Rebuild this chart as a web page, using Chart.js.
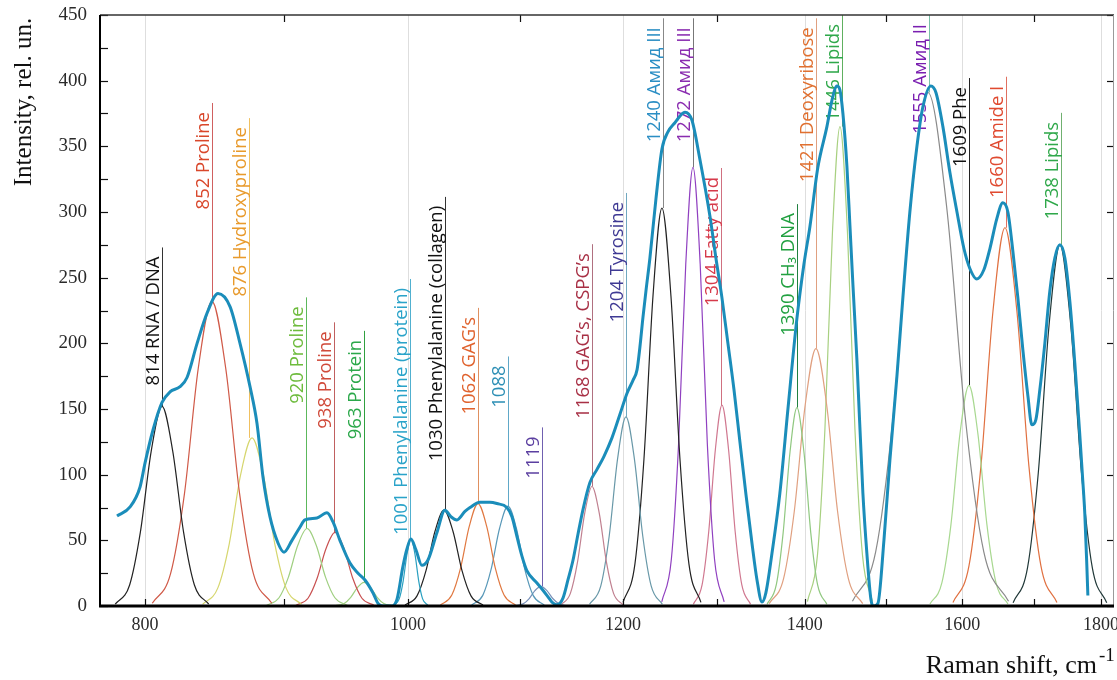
<!DOCTYPE html>
<html>
<head>
<meta charset="utf-8">
<script src="https://cdn.jsdelivr.net/npm/chart.js@4.4.1/dist/chart.umd.min.js"></script>
<style>
  html, body { margin: 0; padding: 0; background: #fff; }
  #wrap { width: 1117px; height: 680px; }
</style>
</head>
<body>
<div id="wrap"><canvas id="spectrum" width="1117" height="680"></canvas></div>
<script>
// measured spectrum (thick teal line)
const envelopeShift = [781.2, 789.9, 796.6, 800.0, 805.4, 811.6, 817.1, 824.1, 829.0, 836.1, 843.2, 851.1, 859.8, 867.1, 874.5, 879.7, 884.2, 889.4, 895.5, 900.1, 906.2, 912.3, 916.2, 925.6, 933.5, 938.3, 943.8, 951.9, 958.4, 964.1, 970.7, 974.8, 978.9, 986.4, 990.6, 995.6, 998.9, 1002.4, 1006.6, 1011.8, 1017.0, 1024.8, 1031.7, 1037.0, 1042.3, 1049.4, 1053.9, 1062.8, 1071.9, 1078.2, 1087.4, 1092.1, 1096.7, 1101.4, 1106.0, 1115.5, 1121.2, 1126.0, 1129.8, 1134.6, 1140.4, 1145.3, 1150.2, 1155.1, 1160.1, 1166.8, 1173.8, 1180.8, 1188.8, 1196.9, 1204.1, 1210.3, 1214.4, 1217.3, 1220.5, 1223.6, 1227.7, 1234.0, 1240.3, 1246.6, 1254.0, 1264.7, 1272.2, 1280.9, 1291.8, 1298.4, 1305.0, 1311.7, 1318.4, 1325.1, 1331.9, 1338.7, 1344.4, 1350.1, 1354.6, 1361.6, 1370.8, 1380.2, 1390.6, 1399.0, 1406.2, 1415.7, 1426.6, 1432.7, 1438.8, 1442.4, 1446.1, 1451.0, 1454.7, 1458.4, 1463.4, 1470.8, 1475.8, 1480.9, 1484.6, 1489.7, 1497.3, 1504.9, 1513.9, 1521.6, 1530.6, 1539.8, 1547.6, 1558.1, 1564.8, 1574.1, 1583.5, 1593.0, 1602.5, 1610.5, 1620.0, 1629.8, 1638.1, 1647.8, 1656.2, 1663.3, 1670.4, 1677.4, 1684.6, 1691.8, 1697.5, 1703.3, 1709.1, 1716.3, 1723.6, 1730.9, 1738.3, 1745.7, 1753.1, 1760.5, 1768.0, 1772.5, 1775.5, 1778.6, 1780.1];
const envelopeIntensity = [68.5, 75.4, 90.6, 109, 134, 155, 163, 167, 174, 200, 223, 238, 228, 200, 167, 139, 98, 68, 48, 41, 50, 60, 65.5, 67, 71, 64, 50, 32.7, 25, 19.8, 9.9, 2, 0, 0, 5, 30, 43, 51, 43, 31, 35, 56, 73, 68, 65.5, 72, 75, 79, 79, 78, 75, 68, 53, 38, 27, 17.5, 12, 7, 3, 1, 6, 20, 35, 55, 74, 94, 104, 114, 128, 146, 162, 172, 180, 197, 220, 240, 265, 310, 348, 361, 368, 376, 370, 340, 297, 265, 235, 200, 165, 125, 85, 48, 20, 3, 10, 40, 86, 150, 218, 260, 289, 334, 365, 385, 396, 393, 375, 335, 290, 245, 187, 86, 40, 5, 0, 2, 50, 111, 175, 235, 300, 350, 380, 396, 391, 365, 330, 300, 272, 257, 249, 256, 272, 295, 307, 300, 270, 235, 195, 160, 138, 142, 165, 200, 240, 265, 275, 265, 232, 185, 130, 95, 70, 30, 8];

// fitted bands, one row per band
const bandShift = [
  [780.0, 789.6, 796.8, 804.2, 811.6, 819.0, 826.6, 834.2, 844.4],
  [804.9, 817.5, 827.2, 836.9, 846.7, 856.7, 866.8, 877.0, 890.8],
  [840.0, 850.9, 859.2, 867.5, 876.0, 884.5, 893.1, 901.7, 913.5],
  [887.0, 896.3, 903.4, 910.6, 917.8, 925.1, 932.4, 939.8, 949.7],
  [909.3, 918.6, 925.6, 932.7, 939.9, 947.1, 954.3, 961.6, 971.5],
  [940.2, 947.2, 952.5, 957.9, 963.3, 968.7, 974.1, 979.6, 986.9],
  [988.2, 992.5, 995.8, 999.1, 1002.4, 1005.8, 1009.1, 1012.4, 1016.9],
  [997.4, 1007.6, 1015.3, 1023.1, 1030.9, 1038.8, 1046.8, 1054.8, 1065.6],
  [1027.7, 1037.8, 1045.5, 1053.3, 1061.1, 1068.9, 1076.8, 1084.8, 1095.5],
  [1055.3, 1065.4, 1073.0, 1080.7, 1088.4, 1096.2, 1104.0, 1111.9, 1122.5],
  [1094.9, 1102.4, 1108.0, 1113.6, 1119.3, 1125.0, 1130.8, 1136.6, 1144.3],
  [1138.3, 1147.6, 1154.6, 1161.7, 1168.8, 1176.0, 1183.2, 1190.4, 1200.2],
  [1166.4, 1177.6, 1186.0, 1194.5, 1203.0, 1211.6, 1220.3, 1229.0, 1240.7],
  [1200.0, 1212.2, 1221.5, 1230.9, 1240.3, 1249.8, 1259.4, 1269.0, 1282.0],
  [1240.1, 1250.2, 1257.9, 1265.6, 1273.4, 1281.2, 1289.0, 1296.9, 1307.5],
  [1273.8, 1283.3, 1290.5, 1297.8, 1305.1, 1312.4, 1319.8, 1327.2, 1337.1],
  [1356.0, 1366.6, 1374.6, 1382.7, 1390.8, 1399.0, 1407.2, 1415.4, 1426.5],
  [1358.4, 1375.1, 1387.7, 1400.5, 1413.4, 1426.4, 1439.5, 1452.8, 1470.6],
  [1403.2, 1415.2, 1424.2, 1433.3, 1442.5, 1451.7, 1460.9, 1470.3, 1482.8],
  [1457.8, 1486.9, 1509.0, 1531.5, 1554.3, 1579.0, 1604.1, 1629.6, 1664.2],
  [1556.9, 1572.8, 1584.9, 1597.0, 1609.3, 1621.6, 1634.0, 1646.6, 1663.4],
  [1587.6, 1609.3, 1625.7, 1642.4, 1659.2, 1676.1, 1693.3, 1710.6, 1734.0],
  [1670.7, 1691.3, 1706.8, 1722.5, 1738.4, 1754.4, 1770.5, 1786.8, 1808.8]
];
const bandIntensity = [
  [1.4, 16, 56, 118, 152, 118, 56, 16, 1.4],
  [2.1, 24.6, 85.6, 180.7, 232, 180.7, 85.6, 24.6, 2.1],
  [1.2, 13.6, 47.2, 99.7, 128, 99.7, 47.2, 13.6, 1.2],
  [0.5, 6.3, 21.8, 46, 59, 46, 21.8, 6.3, 0.5],
  [0.5, 5.9, 20.7, 43.6, 56, 43.6, 20.7, 5.9, 0.5],
  [0.2, 1.9, 6.6, 14, 18, 14, 6.6, 1.9, 0.2],
  [0.5, 5.4, 18.8, 39.7, 51, 39.7, 18.8, 5.4, 0.5],
  [0.7, 7.7, 26.9, 56.9, 73, 56.9, 26.9, 7.7, 0.7],
  [0.7, 8.3, 28.8, 60.8, 78, 60.8, 28.8, 8.3, 0.7],
  [0.7, 8.1, 28, 59.2, 76, 59.2, 28, 8.1, 0.7],
  [0.1, 1.6, 5.5, 11.7, 15, 11.7, 5.5, 1.6, 0.1],
  [0.8, 9.6, 33.6, 70.9, 91, 70.9, 33.6, 9.6, 0.8],
  [1.3, 15.3, 53.1, 112.2, 144, 112.2, 53.1, 15.3, 1.3],
  [2.8, 32.1, 111.8, 236, 303, 236, 111.8, 32.1, 2.8],
  [3.1, 35.4, 123.2, 260.2, 334, 260.2, 123.2, 35.4, 3.1],
  [1.4, 16.2, 56.5, 119.2, 153, 119.2, 56.5, 16.2, 1.4],
  [1.4, 16, 55.7, 117.6, 151, 117.6, 55.7, 16, 1.4],
  [1.8, 20.8, 72.3, 152.7, 196, 152.7, 72.3, 20.8, 1.8],
  [3.4, 38.7, 134.7, 284.3, 365, 284.3, 134.7, 38.7, 3.4],
  [3.6, 41.4, 144.3, 304.6, 391, 304.6, 144.3, 41.4, 3.6],
  [1.5, 17.8, 62, 130.9, 168, 130.9, 62, 17.8, 1.5],
  [2.6, 30.5, 106.3, 224.4, 288, 224.4, 106.3, 30.5, 2.6],
  [2.5, 29.2, 101.5, 214.2, 275, 214.2, 101.5, 29.2, 2.5]
];
const bandColor = ["#222222", "#d05a48", "#d6d66e", "#9fcf80", "#c85050", "#9fcf80", "#2aa0c0", "#222222",
  "#e07840", "#5898b8", "#7890b8", "#c08090", "#6898a8", "#222222", "#9040c0", "#d07890",
  "#90c880", "#e0a080", "#a8d080", "#8a8a8a", "#a8d890", "#e07040", "#203838"];

// band labels
const labelText = ["814 RNA / DNA", "852 Proline", "876 Hydroxyproline", "920 Proline", "938 Proline",
  "963 Protein", "1001 Phenylalanine (protein)", "1030 Phenylalanine (collagen)", "1062 GAG’s", "1088",
  "1119", "1168 GAG’s, CSPG’s", "1204 Tyrosine", "1240 Амид III", "1272 Амид III", "1304 Fatty acid",
  "1390 CH₃ DNA", "1421 Deoxyribose", "1446 Lipids", "1555 Амид II", "1609 Phe", "1660 Amide I", "1738 Lipids"];
const labelShift = [811.6, 846.7, 873.7, 917, 939, 963.3, 1002, 1031.7, 1061, 1088.4, 1120, 1168.8, 1203,
  1241.3, 1273.3, 1303.9, 1390.6, 1413.3, 1444.8, 1555.4, 1609.1, 1660.5, 1739.8];
const labelTop = [273, 383, 371.5, 235, 216, 209.5, 249, 311.5, 227, 190, 136, 275.5, 314.5, 447.5, 447.5,
  333.5, 306, 447.5, 450, 450, 402, 403, 375.5];
const labelBase = [152, 232, 128, 59, 56, 18, 51, 73, 78, 76, 15, 91, 144, 303, 334, 153, 151, 196, 365,
  391, 168, 288, 275];
const labelColor = ["#111111", "#d9472b", "#e89a2c", "#6dbb3c", "#d04a3a", "#2ba84a", "#2aa3c9", "#111111",
  "#e0622d", "#2d8fb5", "#5b3fa0", "#a83045", "#3f3a94", "#2b8ec4", "#8a2cb0", "#d63a4a", "#21a040",
  "#e07030", "#2fa84a", "#7a1fb0", "#111111", "#e04a30", "#2fa84a"];
const labelLineColor = ["#333333", "#d06060", "#f0c060", "#5cb85c", "#c06060", "#30a040", "#50b0d0",
  "#333333", "#e09060", "#60a8c8", "#7060b0", "#b07080", "#70a8c0", "#888888", "#777777", "#d07080",
  "#208040", "#e0a080", "#60b060", "#78c0a8", "#222222", "#e07060", "#70b070"];

const xTicks = [800, 900, 1000, 1100, 1200, 1300, 1400, 1500, 1600, 1700, 1800];
const yTicks = [0, 50, 100, 150, 200, 250, 300, 350, 400, 450];

const serif = '"Liberation Serif", "Times New Roman", serif';

const frame = {
  id: "frame",
  beforeDatasetsDraw(chart) {
    const { ctx, chartArea: a, scales: { x, y } } = chart;
    ctx.save();
    // light grid at labelled shifts
    ctx.strokeStyle = "#dedede";
    ctx.lineWidth = 1;
    xTicks.filter(v => v % 200 === 0).forEach(v => {
      const px = Math.round(x.getPixelForValue(v)) + 0.5;
      ctx.beginPath(); ctx.moveTo(px, a.top); ctx.lineTo(px, a.bottom); ctx.stroke();
    });
    // band labels
    ctx.font = '18.5px "Open Sans", "Noto Sans", sans-serif';
    labelText.forEach((t, i) => {
      const px = Math.round(x.getPixelForValue(labelShift[i])) + 0.5;
      const top = y.getPixelForValue(labelTop[i]);
      const bot = y.getPixelForValue(labelBase[i]);
      ctx.strokeStyle = labelLineColor[i];
      ctx.beginPath(); ctx.moveTo(px, top); ctx.lineTo(px, bot); ctx.stroke();
      ctx.save();
      ctx.translate(px - 4, top + 9);
      ctx.rotate(-Math.PI / 2);
      ctx.fillStyle = labelColor[i];
      ctx.textAlign = "right";
      ctx.textBaseline = "alphabetic";
      ctx.fillText(t, 0, 0);
      ctx.restore();
    });
    ctx.restore();
  },
  afterDatasetsDraw(chart) {
    const { ctx, chartArea: a, scales: { x, y } } = chart;
    ctx.save();
    ctx.strokeStyle = "#111";
    ctx.lineWidth = 1.2;
    // inward ticks
    yTicks.forEach(v => {
      const py = Math.round(y.getPixelForValue(v)) + 0.5;
      ctx.beginPath(); ctx.moveTo(a.right, py); ctx.lineTo(a.right - 7, py); ctx.stroke();
    });
    for (let v = 25; v < 450; v += 50) {
      const py = Math.round(y.getPixelForValue(v)) + 0.5;
      ctx.beginPath(); ctx.moveTo(a.left, py); ctx.lineTo(a.left + 8, py); ctx.stroke();
    }
    yTicks.forEach(v => {
      const py = Math.round(y.getPixelForValue(v)) + 0.5;
      ctx.beginPath(); ctx.moveTo(a.left, py); ctx.lineTo(a.left + 8, py); ctx.stroke();
    });
    xTicks.forEach(v => {
      const px = Math.round(x.getPixelForValue(v)) + 0.5;
      ctx.beginPath(); ctx.moveTo(px, a.bottom); ctx.lineTo(px, a.bottom - 7); ctx.stroke();
      if (v % 200 !== 0) {
        ctx.beginPath(); ctx.moveTo(px, a.top); ctx.lineTo(px, a.top + 7); ctx.stroke();
      }
    });
    // box
    ctx.strokeStyle = "#333";
    ctx.lineWidth = 1.5;
    ctx.beginPath(); ctx.moveTo(a.left, a.top); ctx.lineTo(a.right, a.top); ctx.stroke();
    ctx.strokeStyle = "#999";
    ctx.lineWidth = 1;
    ctx.beginPath(); ctx.moveTo(a.right - 0.5, a.top); ctx.lineTo(a.right - 0.5, a.bottom); ctx.stroke();
    ctx.strokeStyle = "#000";
    ctx.lineWidth = 2;
    ctx.beginPath(); ctx.moveTo(a.left, a.top); ctx.lineTo(a.left, a.bottom); ctx.stroke();
    ctx.lineWidth = 3;
    ctx.beginPath(); ctx.moveTo(a.left - 1, a.bottom); ctx.lineTo(a.right, a.bottom); ctx.stroke();
    ctx.restore();
  },
  afterDraw(chart) {
    const { ctx } = chart;
    ctx.save();
    ctx.fillStyle = "#111";
    // y title
    ctx.font = "25px " + serif;
    ctx.translate(31, 102);
    ctx.rotate(-Math.PI / 2);
    ctx.textAlign = "center";
    ctx.textBaseline = "alphabetic";
    ctx.fillText("Intensity, rel. un.", 0, 0);
    ctx.restore();
    // x title with superscript
    ctx.save();
    ctx.fillStyle = "#111";
    ctx.font = "26px " + serif;
    ctx.textAlign = "right";
    ctx.textBaseline = "alphabetic";
    ctx.fillText("Raman shift, cm", 1097, 673);
    ctx.font = "19px " + serif;
    ctx.textAlign = "left";
    ctx.fillText("-1", 1099, 661);
    ctx.restore();
  }
};

const datasets = [{
  label: "spectrum",
  data: envelopeShift.map((v, i) => ({ x: v, y: envelopeIntensity[i] })),
  borderColor: "#1b8dba",
  borderWidth: 3,
  pointRadius: 0,
  cubicInterpolationMode: "monotone",
  fill: false,
  order: 0
}];
bandShift.forEach((xs, k) => {
  datasets.push({
    label: labelText[k],
    data: xs.map((v, i) => ({ x: v, y: bandIntensity[k][i] })),
    borderColor: bandColor[k],
    borderWidth: 1.2,
    pointRadius: 0,
    cubicInterpolationMode: "monotone",
    fill: false,
    order: 1
  });
});

new Chart(document.getElementById("spectrum"), {
  type: "line",
  data: { datasets },
  options: {
    responsive: false,
    animation: false,
    devicePixelRatio: 1,
    layout: { padding: { left: 0, right: 3, top: 15, bottom: 0 } },
    plugins: { legend: { display: false }, tooltip: { enabled: false } },
    scales: {
      x: {
        type: "logarithmic",
        min: 770,
        max: 1820,
        afterBuildTicks: s => { s.ticks = xTicks.map(v => ({ value: v })); },
        afterFit: s => { s.height = 74; s.paddingLeft = 0; s.paddingRight = 0; },
        ticks: {
          autoSkip: false,
          maxRotation: 0,
          padding: 8,
          color: "#2a2a2a",
          font: { family: serif, size: 18 },
          callback: v => (v % 200 === 0 ? String(v) : "")
        },
        grid: { display: false, drawTicks: false },
        border: { display: false }
      },
      y: {
        min: 0,
        max: 450,
        afterBuildTicks: s => { s.ticks = yTicks.map(v => ({ value: v })); },
        afterFit: s => { s.width = 100; s.paddingTop = 0; s.paddingBottom = 0; },
        ticks: {
          padding: 13,
          color: "#2a2a2a",
          font: { family: serif, size: 19 }
        },
        grid: { display: false, drawTicks: false },
        border: { display: false }
      }
    }
  },
  plugins: [frame]
});
</script>
</body>
</html>
